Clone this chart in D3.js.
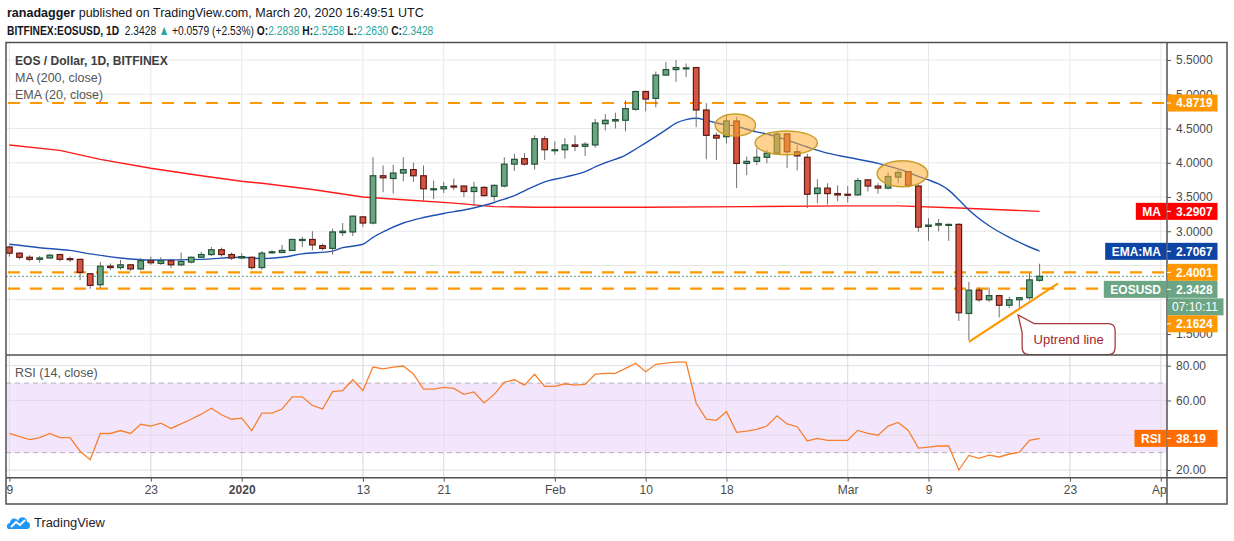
<!DOCTYPE html>
<html>
<head>
<meta charset="utf-8">
<script src="https://d3js.org/d3.v7.min.js"></script>
<style>
  body { margin: 0; background: #fff; }
  svg { display: block; font-family: "Liberation Sans", Arial, sans-serif; }
</style>
</head>
<body>
<div id="chart"></div>
<script>
// ---- data ----
const firstDay = "2019-12-09";
const opens = [2.77,2.68,2.62,2.59,2.61,2.66,2.60,2.59,2.38,2.22,2.49,2.47,2.51,2.45,2.57,2.53,2.57,2.51,2.55,2.62,2.66,2.73,2.66,
  2.61,2.62,2.47,2.69,2.69,2.72,2.87,2.88,2.79,2.75,2.98,2.99,3.21,3.12,3.81,3.77,3.85,3.90,3.81,3.61,3.62,3.66,3.66,3.58,3.64,3.51,3.66,3.98,4.06,3.98,4.35,
  4.18,4.19,4.26,4.24,4.26,4.57,4.61,4.62,4.78,5.04,4.94,5.28,5.36,5.38,5.39,4.77,4.40,4.38,4.61,3.99,4.02,4.08,4.14,4.42,4.16,4.08,3.55,3.63,3.55,
  3.54,3.53,3.75,3.66,3.63,3.79,3.87,3.66,3.07,3.09,3.09,3.10,1.80,2.14,2.00,2.06,1.92,2.00,2.03,2.2838];
const highs = [2.79,2.69,2.65,2.64,2.67,2.67,2.63,2.60,2.39,2.55,2.53,2.58,2.52,2.61,2.63,2.62,2.58,2.69,2.63,2.70,2.77,2.76,2.69,
  2.68,2.63,2.71,2.72,2.80,2.89,2.92,3.00,2.82,3.04,3.12,3.23,3.22,4.08,3.96,3.97,4.08,4.00,3.96,3.74,3.72,3.77,3.67,3.72,3.66,3.68,4.08,4.13,4.14,4.40,4.39,
  4.31,4.36,4.40,4.30,4.64,4.71,4.73,4.91,5.05,5.05,5.33,5.47,5.50,5.45,5.39,4.87,4.44,4.70,4.67,4.09,4.21,4.19,4.45,4.43,4.26,4.13,3.76,3.70,3.67,
  3.66,3.78,3.76,3.70,3.86,3.90,3.88,3.68,3.19,3.18,3.11,3.12,2.26,2.18,2.18,2.07,2.04,2.04,2.39,2.5258];
const lows = [2.63,2.59,2.56,2.54,2.60,2.56,2.55,2.29,2.16,2.17,2.43,2.44,2.42,2.43,2.51,2.51,2.46,2.49,2.53,2.61,2.64,2.63,2.58,
  2.59,2.44,2.44,2.67,2.68,2.71,2.77,2.72,2.72,2.66,2.93,2.93,3.06,3.10,3.57,3.55,3.73,3.72,3.44,3.47,3.56,3.60,3.50,3.37,3.51,3.44,3.64,3.88,3.96,3.90,4.04,
  4.12,4.06,4.17,4.10,4.22,4.47,4.50,4.46,4.76,4.75,4.81,5.27,5.18,5.25,4.52,4.05,4.04,4.28,3.63,3.82,3.97,3.99,4.12,3.92,3.89,3.34,3.41,3.39,3.44,
  3.42,3.52,3.58,3.55,3.61,3.70,3.64,2.99,2.86,3.00,2.86,1.69,1.41,1.97,1.97,1.74,1.88,1.88,2.00,2.2630];
const closes = [2.68,2.62,2.59,2.61,2.65,2.59,2.59,2.40,2.21,2.49,2.47,2.51,2.45,2.57,2.54,2.57,2.51,2.56,2.62,2.66,2.73,2.66,2.61,
  2.63,2.47,2.68,2.70,2.72,2.88,2.88,2.80,2.75,2.99,3.00,3.22,3.12,3.81,3.78,3.85,3.90,3.81,3.62,3.62,3.65,3.65,3.58,3.64,3.52,3.67,3.98,4.05,3.98,4.35,4.19,
  4.19,4.26,4.24,4.27,4.58,4.62,4.63,4.79,5.04,4.93,5.28,5.36,5.39,5.385,4.77,4.40,4.36,4.61,3.99,4.02,4.08,4.14,4.42,4.16,4.10,3.54,3.63,3.55,3.53,
  3.53,3.74,3.66,3.63,3.80,3.86,3.67,3.06,3.09,3.11,3.10,1.81,2.14,2.00,2.06,1.92,2.00,2.03,2.29,2.3428];
const rsiValues = [41.0,39.2,37.5,38.6,41.0,38.6,38.6,30.8,25.9,41.0,41.0,42.7,41.0,46.3,45.3,46.9,43.9,46.5,49.2,52.1,55.5,51.8,49.2,
  49.8,42.7,52.7,52.7,55.1,62.1,62.1,57.1,55.1,65.1,65.7,71.9,65.7,79.2,78.2,79.2,79.8,75.3,66.5,66.5,67.5,66.9,63.5,64.9,58.6,63.5,70.4,71.9,68.8,75.1,68.1,
  68.1,69.6,68.8,69.2,75.1,75.6,75.6,78.5,81.4,76.5,80.8,81.5,82.0,82.0,58.4,49.3,48.6,53.6,41.7,42.4,43.4,45.3,51.2,46.5,44.9,36.7,38.2,37.1,37.1,
  37.1,42.8,41.1,40.0,45.3,47.4,42.8,32.6,33.2,33.8,33.8,20.0,28.4,26.7,28.6,27.5,29.2,30.2,37.1,38.19];

const maDates = ["2019-12-09","2019-12-14","2019-12-18","2019-12-23","2019-12-28","2020-01-01","2020-01-03","2020-01-08","2020-01-13",
  "2020-01-17","2020-01-22","2020-01-26","2020-01-30","2020-02-10","2020-02-20","2020-03-01","2020-03-06","2020-03-12","2020-03-20"];
const maValues = [4.26,4.18,4.05,3.92,3.81,3.73,3.70,3.61,3.50,3.46,3.41,3.36,3.35,3.35,3.36,3.37,3.37,3.34,3.29];

const emaDates = ["2019-12-09","2019-12-12","2019-12-15","2019-12-17","2019-12-20","2019-12-23","2019-12-28","2020-01-01","2020-01-03",
  "2020-01-05","2020-01-07","2020-01-10","2020-01-11","2020-01-13","2020-01-14","2020-01-15","2020-01-17","2020-01-19","2020-01-21",
  "2020-01-23","2020-01-26","2020-01-27","2020-01-28","2020-01-29","2020-01-30","2020-01-31","2020-02-02","2020-02-04","2020-02-05",
  "2020-02-06","2020-02-08","2020-02-09","2020-02-10","2020-02-12","2020-02-13","2020-02-14","2020-02-15","2020-02-16","2020-02-17",
  "2020-02-19","2020-02-21","2020-02-22","2020-02-24","2020-02-26","2020-02-28","2020-03-01","2020-03-04","2020-03-07","2020-03-08",
  "2020-03-09","2020-03-10","2020-03-11","2020-03-12","2020-03-13","2020-03-15","2020-03-17","2020-03-19","2020-03-20"];
const emaValues = [2.81,2.76,2.72,2.67,2.61,2.58,2.59,2.62,2.60,2.62,2.67,2.71,2.76,2.81,2.91,2.99,3.12,3.20,3.26,
  3.31,3.42,3.47,3.52,3.59,3.66,3.72,3.79,3.87,3.94,4.00,4.11,4.20,4.29,4.48,4.58,4.63,4.65,4.62,4.58,
  4.53,4.45,4.42,4.33,4.23,4.14,4.08,3.99,3.86,3.80,3.75,3.69,3.60,3.46,3.31,3.08,2.91,2.77,2.71];

const levelValues = [4.8719, 2.4001, 2.1624];
const maLast = 3.2907, emaLast = 2.7067, rsiLast = 38.19;
const changeAbs = 0.0579, changePct = 2.53;
const countdown = "07:10:11";

const priceTicks = [1.5, 2.0, 2.5, 3.0, 3.5, 4.0, 4.5, 5.0, 5.5];
const rsiTicks = [20, 40, 60, 80];
const timeTickDates = ["2019-12-09","2019-12-23","2020-01-01","2020-01-13","2020-01-21","2020-02-01",
  "2020-02-10","2020-02-18","2020-03-01","2020-03-09","2020-03-23","2020-04-01"];
const timeTickLabels = ["9","23","2020","13","21","Feb","10","18","Mar","9","23","Apr"];

// annotations: uptrend line, callout tip, highlighted tops
const trendDates = ["2020-03-13", "2020-03-21T20:00:00Z"];
const trendPrices = [1.385, 2.24];
const calloutDate = "2020-03-17T21:00:00Z", calloutPrice = 1.777;
const topDates = ["2020-02-18T21:00:00Z", "2020-02-23T22:00:00Z", "2020-03-06T10:00:00Z"];
const topPrices = [4.55, 4.29, 3.84];
const topHalfDays = [2.0, 3.1, 2.5];
const topHalfPrice = [0.16, 0.175, 0.19];

// ---- setup ----
const W = 1234, H = 541;
const frame = { left: 6, top: 42.5, right: 1227, bottom: 504, axisX: 1167, split: 355, timeAxis: 477.7 };
const dark = "#4a4a4a", grid = "#e8e8e8";
const upFill = "#6ba583", upLine = "#225437", downFill = "#d75442", downLine = "#5b1a13";
const orange = "#ff9800", teal = "#26a69a";

const svg = d3.select("#chart").append("svg")
  .attr("width", W).attr("height", H);

const days = d3.utcDay.range(new Date(firstDay), d3.utcDay.offset(new Date(firstDay), closes.length));
const candles = days.map((d, i) => ({ date: d, o: opens[i], h: highs[i], l: lows[i], c: closes[i], rsi: rsiValues[i] }));

const x = d3.scaleUtc()
  .domain([new Date("2019-12-09"), new Date("2020-04-01")])
  .range([9.4, 1160.8]);
const y = d3.scaleLinear().domain([1.5, 5.5]).range([334, 60]);
const yr = d3.scaleLinear().domain([20, 80]).range([470, 365.7]);

const defs = svg.append("defs");
defs.append("clipPath").attr("id", "clipMain").append("rect")
  .attr("x", frame.left).attr("y", frame.top).attr("width", frame.axisX - frame.left).attr("height", frame.split - frame.top);
defs.append("clipPath").attr("id", "clipRsi").append("rect")
  .attr("x", frame.left).attr("y", frame.split).attr("width", frame.axisX - frame.left).attr("height", frame.timeAxis - frame.split);
defs.append("clipPath").attr("id", "clipTime").append("rect")
  .attr("x", frame.left).attr("y", frame.timeAxis).attr("width", frame.axisX - frame.left).attr("height", frame.bottom - frame.timeAxis);

// text squeezed horizontally to a given width (narrow look of the original font)
function fitted(parent, x0, y0, width) {
  const g = parent.append("g");
  const t = g.append("text").attr("x", 0).attr("y", 0);
  t.fit = () => {
    const w = t.node().getComputedTextLength();
    g.attr("transform", `translate(${x0},${y0}) scale(${width / w},1)`);
    return t;
  };
  return t;
}

// ---- header ----
const hdr1 = fitted(svg, 7, 17, 417).attr("font-size", 13.5).attr("fill", "#131722");
hdr1.append("tspan").attr("font-weight", "bold").text("ranadagger");
hdr1.append("tspan").text(" published on TradingView.com, March 20, 2020 16:49:51 UTC");
hdr1.fit();

const last = candles[candles.length - 1];
const f4 = d3.format(".4f");
const hdr2 = fitted(svg, 7, 35, 427).attr("font-size", 13.5).attr("fill", "#131722");
[
  ["BITFINEX:EOSUSD, 1D", "bold", null],
  ["\u00A0 " + f4(last.c) + " ", null, null],
  ["\u25B2", null, teal],
  [" +" + f4(changeAbs) + " (+" + changePct.toFixed(2) + "%) ", null, null],
  ["O:", "bold", null], [f4(last.o), null, teal],
  [" H:", "bold", null], [f4(last.h), null, teal],
  [" L:", "bold", null], [f4(last.l), null, teal],
  [" C:", "bold", null], [f4(last.c), null, teal]
].forEach(p => {
  const t = hdr2.append("tspan").text(p[0]);
  if (p[1]) t.attr("font-weight", p[1]);
  if (p[2]) t.attr("fill", p[2]);
});
hdr2.fit();

// ---- grid ----
const gridG = svg.append("g");
gridG.selectAll(".vg").data(timeTickDates).enter().append("line")
  .attr("x1", d => x(new Date(d))).attr("x2", d => x(new Date(d)))
  .attr("y1", frame.top).attr("y2", frame.timeAxis)
  .attr("stroke", grid).attr("stroke-width", 1);
gridG.selectAll(".hg").data(priceTicks).enter().append("line")
  .attr("x1", frame.left).attr("x2", frame.axisX)
  .attr("y1", d => y(d)).attr("y2", d => y(d))
  .attr("stroke", grid);

// ---- RSI pane ----
const rsiG = svg.append("g").attr("clip-path", "url(#clipRsi)");
rsiG.append("rect").attr("x", frame.left).attr("width", frame.axisX - frame.left)
  .attr("y", yr(70)).attr("height", yr(30) - yr(70)).attr("fill", "#f3e6fc");
rsiG.selectAll(".rg").data(rsiTicks).enter().append("line")
  .attr("x1", frame.left).attr("x2", frame.axisX)
  .attr("y1", d => yr(d)).attr("y2", d => yr(d))
  .attr("stroke", "#e2dbe6");
rsiG.selectAll(".vg").data(timeTickDates).enter().append("line")
  .attr("x1", d => x(new Date(d))).attr("x2", d => x(new Date(d)))
  .attr("y1", frame.split).attr("y2", frame.timeAxis)
  .attr("stroke", "#e2dde6");
rsiG.selectAll(".band").data([70, 30]).enter().append("line")
  .attr("x1", frame.left).attr("x2", frame.axisX)
  .attr("y1", d => yr(d)).attr("y2", d => yr(d))
  .attr("stroke", "#b4b0b8").attr("stroke-dasharray", "5,4");
rsiG.append("path").datum(candles)
  .attr("d", d3.line().x(d => x(d.date)).y(d => yr(d.rsi)))
  .attr("fill", "none").attr("stroke", "#f7802f").attr("stroke-width", 1.3);

// ---- main pane ----
const main = svg.append("g").attr("clip-path", "url(#clipMain)");

main.selectAll(".lvl").data(levelValues).enter().append("line")
  .attr("x1", frame.left + 2).attr("x2", frame.axisX)
  .attr("y1", d => y(d)).attr("y2", d => y(d))
  .attr("stroke", orange).attr("stroke-width", 2.2).attr("stroke-dasharray", "12,10");

main.append("line")
  .attr("x1", frame.left).attr("x2", frame.axisX)
  .attr("y1", y(last.c)).attr("y2", y(last.c))
  .attr("stroke", "#5b9a78").attr("stroke-dasharray", "2,2");

main.append("path").datum(maDates.map((d, i) => [new Date(d), maValues[i]]))
  .attr("d", d3.line().x(d => x(d[0])).y(d => y(d[1])))
  .attr("fill", "none").attr("stroke", "#ff1a1a").attr("stroke-width", 1.4);

main.append("path").datum(emaDates.map((d, i) => [new Date(d), emaValues[i]]))
  .attr("d", d3.line().curve(d3.curveMonotoneX).x(d => x(d[0])).y(d => y(d[1])))
  .attr("fill", "none").attr("stroke", "#1f52b3").attr("stroke-width", 1.4);

const bodyW = 5.6;
const cg = main.selectAll(".candle").data(candles).enter().append("g");
cg.append("line")
  .attr("x1", d => x(d.date)).attr("x2", d => x(d.date))
  .attr("y1", d => y(d.h)).attr("y2", d => y(d.l))
  .attr("stroke", "#707070").attr("stroke-width", 1);
cg.append("rect")
  .attr("x", d => x(d.date) - bodyW / 2)
  .attr("width", bodyW)
  .attr("y", d => y(Math.max(d.o, d.c)))
  .attr("height", d => Math.max(1, Math.abs(y(d.o) - y(d.c))))
  .attr("fill", d => d.c >= d.o ? upFill : downFill)
  .attr("stroke", d => d.c >= d.o ? upLine : downLine)
  .attr("stroke-width", 1.2);

// highlighted tops
main.selectAll(".top").data(topDates).enter().append("ellipse")
  .attr("cx", d => x(new Date(d)))
  .attr("cy", (d, i) => y(topPrices[i]))
  .attr("rx", (d, i) => x(d3.utcHour.offset(new Date(d), Math.round(topHalfDays[i] * 24))) - x(new Date(d)))
  .attr("ry", (d, i) => y(topPrices[i] - topHalfPrice[i]) - y(topPrices[i]))
  .attr("fill", "#ffad33").attr("fill-opacity", 0.55)
  .attr("stroke", "#c9a02c").attr("stroke-width", 1.5);

// uptrend line
main.append("line")
  .attr("x1", x(new Date(trendDates[0]))).attr("y1", y(trendPrices[0]))
  .attr("x2", x(new Date(trendDates[1]))).attr("y2", y(trendPrices[1]))
  .attr("stroke", orange).attr("stroke-width", 2.2);

// callout
const tip = [x(new Date(calloutDate)), y(calloutPrice)];
const bL = tip[0] + 4, bT = tip[1] + 8.5, bR = bL + 93, bB = bT + 31, r = 7;
main.append("path")
  .attr("d", `M${bL + 12},${bT} L${bR - r},${bT} Q${bR},${bT} ${bR},${bT + r} L${bR},${bB - r} Q${bR},${bB} ${bR - r},${bB}
     L${bL + r},${bB} Q${bL},${bB} ${bL},${bB - r} L${bL},${bT + 9} L${tip[0]},${tip[1]} Z`)
  .attr("fill", "#fff").attr("stroke", "#a8393c").attr("stroke-width", 1.3);
main.append("text").attr("x", (bL + bR) / 2).attr("y", bT + 20.5)
  .attr("text-anchor", "middle").attr("font-size", 13).attr("fill", "#a3262c").text("Uptrend line");

// legends
const leg = svg.append("g").attr("font-size", 12.5);
fitted(leg, 15, 65, 153).attr("fill", "#3d3d3d").attr("font-weight", "bold")
  .text("EOS / Dollar, 1D, BITFINEX").fit();
leg.append("text").attr("x", 15).attr("y", 82).attr("fill", "#555").text("MA (200, close)");
leg.append("text").attr("x", 15).attr("y", 99).attr("fill", "#555").text("EMA (20, close)");
leg.append("text").attr("x", 15).attr("y", 377).attr("fill", "#555").text("RSI (14, close)");

// ---- axes ----
const pAxis = svg.append("g").attr("transform", `translate(${frame.axisX},0)`)
  .call(d3.axisRight(y).tickValues(priceTicks).tickFormat(d3.format(".4f")).tickSize(4).tickPadding(5));
const rAxis = svg.append("g").attr("transform", `translate(${frame.axisX},0)`)
  .call(d3.axisRight(yr).tickValues(rsiTicks).tickFormat(d3.format(".2f")).tickSize(4).tickPadding(5));
const tAxis = svg.append("g").attr("clip-path", "url(#clipTime)")
  .append("g").attr("transform", `translate(0,${frame.timeAxis})`)
  .call(d3.axisBottom(x).tickValues(timeTickDates.map(d => new Date(d)))
    .tickFormat((d, i) => timeTickLabels[i]).tickSize(4).tickPadding(4));
[pAxis, rAxis, tAxis].forEach(a => {
  a.select(".domain").remove();
  a.selectAll(".tick line").attr("stroke", "#555");
  a.selectAll(".tick text").attr("fill", dark).attr("font-size", 12)
    .attr("font-family", "'Liberation Sans', Arial, sans-serif");
});
tAxis.selectAll(".tick text").filter((d, i) => timeTickLabels[i] === "2020").attr("font-weight", "bold");

// ---- frame lines ----
const fr = svg.append("g").attr("stroke", "#505050").attr("stroke-width", 1.5).attr("fill", "none");
fr.append("rect").attr("x", frame.left).attr("y", frame.top)
  .attr("width", frame.right - frame.left).attr("height", frame.bottom - frame.top);
fr.append("line").attr("x1", frame.axisX).attr("x2", frame.axisX).attr("y1", frame.top).attr("y2", frame.bottom);
fr.append("line").attr("x1", frame.left).attr("x2", frame.right).attr("y1", frame.split).attr("y2", frame.split);
fr.append("line").attr("x1", frame.left).attr("x2", frame.right).attr("y1", frame.timeAxis).attr("y2", frame.timeAxis);

// ---- price labels on the right scale ----
const boxH = 17;
const priceLabels = [
  { v: levelValues[0], t: f4(levelValues[0]), c: orange },
  { v: maLast, t: f4(maLast), c: "#ff0000", tag: "MA" },
  { v: emaLast, t: f4(emaLast), c: "#0e44a3", tag: "EMA:MA" },
  { v: levelValues[1], t: f4(levelValues[1]), c: orange },
  { v: last.c, t: f4(last.c), c: upFill, tag: "EOSUSD", extra: countdown },
  { v: levelValues[2], t: f4(levelValues[2]), c: orange }
];
const boxes = [];
let prevBottom = -Infinity;
const labG = svg.append("g").attr("font-size", 12).attr("font-weight", "bold");
function drawLabel(cy, lab) {
  boxes.push([cy - boxH / 2, cy + boxH / 2]);
  labG.append("rect").attr("x", frame.axisX + 0.5).attr("y", cy - boxH / 2)
    .attr("width", 50).attr("height", boxH).attr("fill", lab.c);
  labG.append("line").attr("x1", frame.axisX).attr("x2", frame.axisX + 4).attr("y1", cy).attr("y2", cy)
    .attr("stroke", "#fff");
  labG.append("text").attr("x", frame.axisX + 9).attr("y", cy + 4.3).attr("fill", "#fff").text(lab.t);
  if (lab.tag) {
    const tt = labG.append("text").attr("y", cy + 4.3).attr("fill", "#fff")
      .attr("text-anchor", "end").attr("x", frame.axisX - 6).text(lab.tag);
    const w = tt.node().getComputedTextLength() + 12;
    labG.insert("rect", "text").attr("x", frame.axisX - 0.5 - w).attr("y", cy - boxH / 2)
      .attr("width", w).attr("height", boxH).attr("fill", lab.c);
  }
}
priceLabels.forEach(lab => {
  let cy = y(lab.v);
  if (cy - boxH / 2 < prevBottom) cy = prevBottom + boxH / 2;
  drawLabel(cy, lab);
  prevBottom = cy + boxH / 2;
  if (lab.extra) {
    const ey = prevBottom;
    boxes.push([ey, ey + boxH]);
    labG.append("rect").attr("x", frame.axisX + 0.5).attr("y", ey + 0.5)
      .attr("width", 56).attr("height", boxH).attr("fill", lab.c);
    labG.append("text").attr("x", frame.axisX + 5).attr("y", ey + boxH / 2 + 4.8)
      .attr("fill", "#fff").attr("font-weight", "normal").text(lab.extra);
    prevBottom = ey + boxH + 0.5;
  }
});
drawLabel(yr(rsiLast), { t: rsiLast.toFixed(2), c: "#ff6d00", tag: "RSI" });

// scale labels hidden behind a price box are not drawn
pAxis.selectAll(".tick text").style("display", d =>
  boxes.some(b => y(d) > b[0] + 1 && y(d) < b[1] + 1) ? "none" : null);
rAxis.selectAll(".tick text").style("display", d =>
  boxes.some(b => yr(d) > b[0] + 1 && yr(d) < b[1] + 1) ? "none" : null);

// ---- TradingView mark ----
const logo = svg.append("g").attr("transform", "translate(7,513)");
logo.append("path")
  .attr("d", "M2,16 C-1,16 -1,10 3,10 C3,5 9,4 11,8 C12,3 20,3 20,9 C24,9 24,16 20,16 Z")
  .attr("fill", "#2196f3");
logo.append("polyline").attr("points", "4,14 9,9 13,12 18,7")
  .attr("fill", "none").attr("stroke", "#fff").attr("stroke-width", 1.8);
fitted(svg, 34, 527, 71).attr("font-size", 13.5).attr("fill", "#1e222d").text("TradingView").fit();
</script>
</body>
</html>
